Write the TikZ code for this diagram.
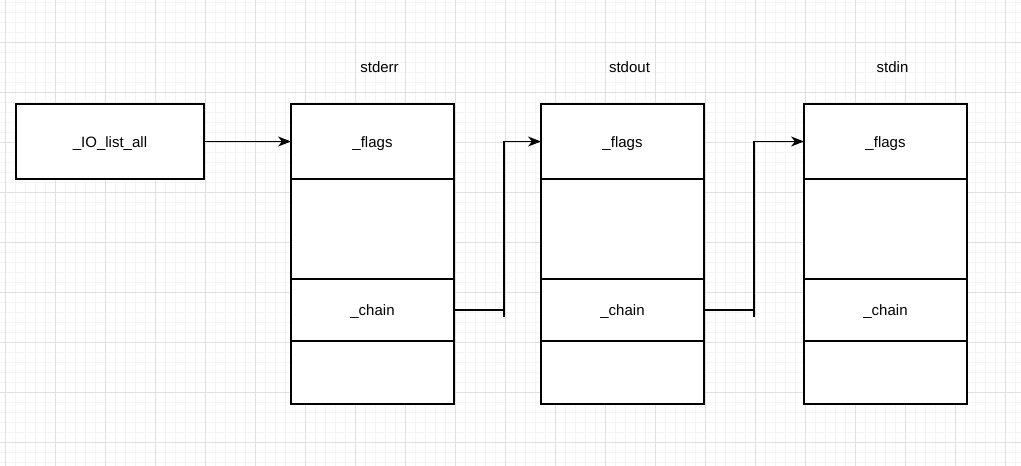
\documentclass[tikz,border=0pt]{standalone}
\usepackage{fontspec}
\setmainfont{Liberation Sans}
\usetikzlibrary{positioning,arrows.meta,calc}
\definecolor{GridMinor}{RGB}{244,244,244}
\definecolor{GridMajor}{RGB}{224,224,224}
\tikzset{
  flow/.style={-{Stealth[length=13pt,width=10pt,inset=4pt]},line width=1.5pt,draw=black},
  tickline/.style={line width=1.5pt,draw=black},
  cell/.style={draw=black,fill=white,line width=1.5pt,minimum width=163pt,
    inner sep=0pt,outer sep=0pt,text height=12pt,text depth=1pt,
    font=\fontsize{15}{18}\selectfont},
  headbox/.style={draw=black,fill=white,line width=1.5pt,minimum width=188pt,
    minimum height=75pt,inner sep=0pt,outer sep=0pt,text height=12pt,text depth=1pt,
    font=\fontsize{15}{18}\selectfont},
  title/.style={inner sep=0pt,outer sep=0pt,xshift=7pt,font=\fontsize{15}{18}\selectfont},
  minorgrid/.style={draw=GridMinor,line width=0.8pt},
  majorgrid/.style={draw=GridMajor,line width=0.8pt}
}

\begin{document}
\begin{tikzpicture}[x=1pt,y=-1pt]
  \useasboundingbox (0,0) rectangle (1021,466);
  \fill[white] (0,0) rectangle (1021,466);
  % background grid
  \foreach \gx in {5,15,...,1015} \draw[minorgrid] (\gx,0) -- (\gx,466);
  \foreach \gy in {2,12,...,462} \draw[minorgrid] (0,\gy) -- (1021,\gy);
  \foreach \gx in {5,55,...,1005} \draw[majorgrid] (\gx,0) -- (\gx,466);
  \foreach \gy in {42,92,...,442} \draw[majorgrid] (0,\gy) -- (1021,\gy);

  \node[headbox] (listall) at (110,141.5) {\_IO\_list\_all};

  % stderr
  \node[cell,minimum height=75pt,right=87pt of listall] (flags1) {\_flags};
  \node[cell,minimum height=100pt,below=0pt of flags1] (gap1) {};
  \node[cell,minimum height=62pt,below=0pt of gap1] (chain1) {\_chain};
  \node[cell,minimum height=63pt,below=0pt of chain1] (tail1) {};
  \node[title,above=31pt of flags1] (name1) {stderr};

  % stdout
  \node[cell,minimum height=75pt,right=87pt of flags1] (flags2) {\_flags};
  \node[cell,minimum height=100pt,below=0pt of flags2] (gap2) {};
  \node[cell,minimum height=62pt,below=0pt of gap2] (chain2) {\_chain};
  \node[cell,minimum height=63pt,below=0pt of chain2] (tail2) {};
  \node[title,above=31pt of flags2] (name2) {stdout};

  % stdin
  \node[cell,minimum height=75pt,right=100pt of flags2] (flags3) {\_flags};
  \node[cell,minimum height=100pt,below=0pt of flags3] (gap3) {};
  \node[cell,minimum height=62pt,below=0pt of gap3] (chain3) {\_chain};
  \node[cell,minimum height=63pt,below=0pt of chain3] (tail3) {};
  \node[title,above=31pt of flags3] (name3) {stdin};

  % links
  \coordinate (bend1) at ($(chain1.east)+(50,0)$);
  \coordinate (tick1) at ($(bend1)+(0,7)$);
  \coordinate (bend2) at ($(chain2.east)+(50,0)$);
  \coordinate (tick2) at ($(bend2)+(0,7)$);
  \draw[flow] (listall) -- (flags1);
  \draw[flow] (chain1.east) -- (bend1) |- (flags2.west);
  \draw[tickline] (bend1) -- (tick1);
  \draw[flow] (chain2.east) -- (bend2) |- (flags3.west);
  \draw[tickline] (bend2) -- (tick2);
\end{tikzpicture}
\end{document}
